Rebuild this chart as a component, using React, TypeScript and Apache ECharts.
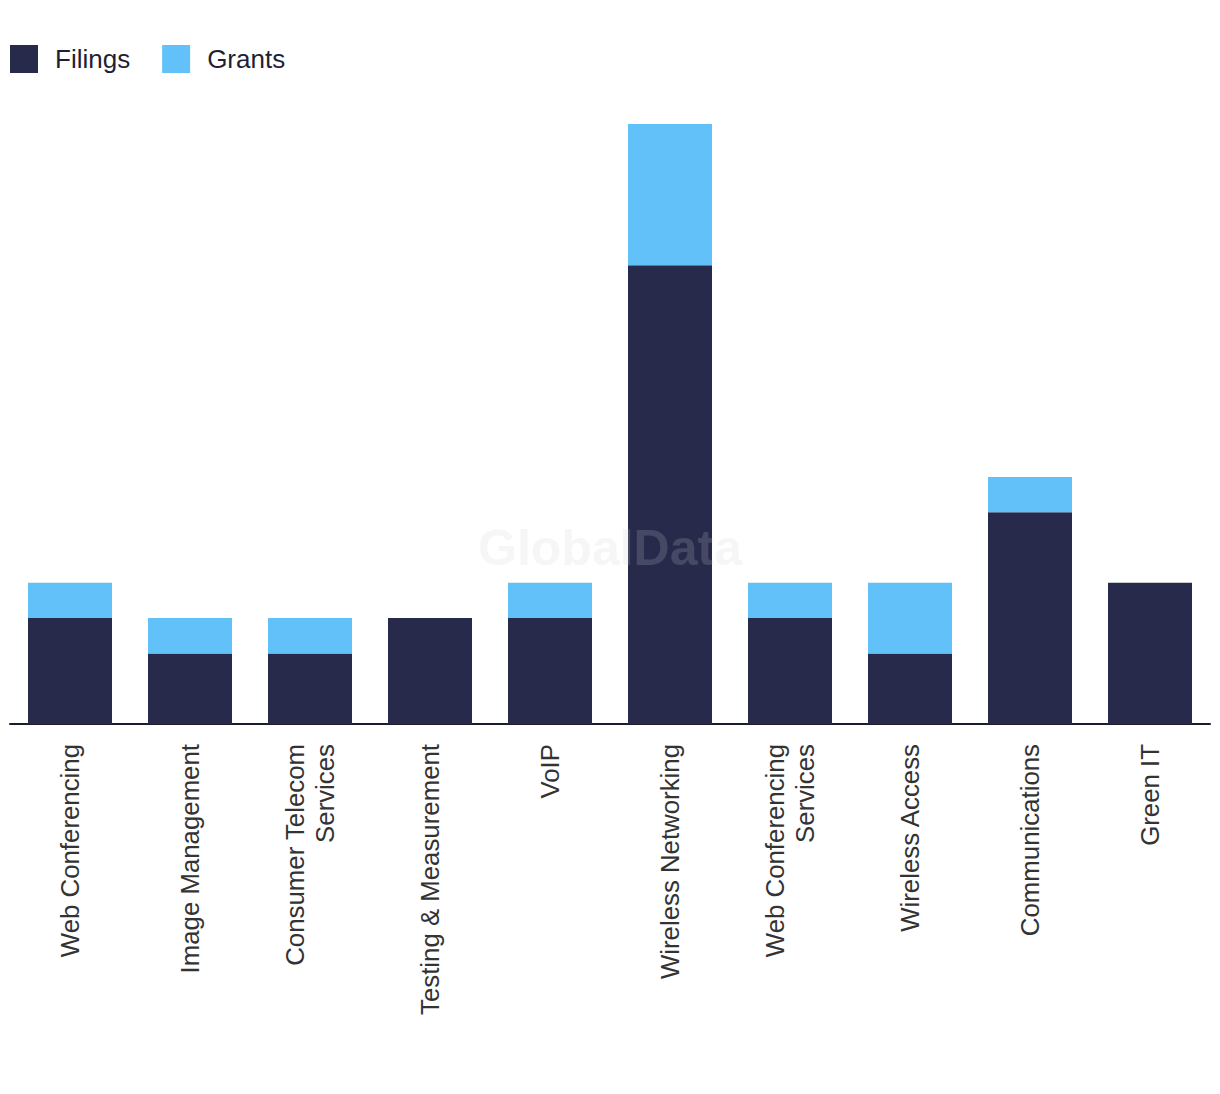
import React, { useEffect, useRef } from "react";
import * as echarts from "echarts";

const categories = [
  "Web Conferencing",
  "Image Management",
  "Consumer Telecom\nServices",
  "Testing & Measurement",
  "VoIP",
  "Wireless Networking",
  "Web Conferencing\nServices",
  "Wireless Access",
  "Communications",
  "Green IT",
];
const filings = [3, 2, 2, 3, 3, 13, 3, 2, 6, 4];
const grants = [1, 1, 1, 0, 1, 4, 1, 2, 1, 0];

export default function App() {
  const ref = useRef<HTMLDivElement>(null);
  useEffect(() => {
    if (!ref.current) return;
    const chart = echarts.init(ref.current, undefined, { renderer: "svg" });
    chart.setOption({
      animation: false,
      backgroundColor: "#ffffff",
      legend: {
        left: 10,
        top: 45,
        padding: 0,
        itemWidth: 28,
        itemHeight: 28,
        itemGap: 32,
        icon: "rect",
        textStyle: {
          fontFamily: "Liberation Sans, Arial, sans-serif",
          fontSize: 26,
          color: "#1e1f36",
          padding: [0, 0, 0, 12],
        },
        data: ["Filings", "Grants"],
      },
      grid: { left: 10, right: 10, top: 124, bottom: 370, containLabel: false },
      xAxis: {
        type: "category",
        data: categories,
        axisLine: { show: true, lineStyle: { color: "#1a1b2e", width: 2 } },
        axisTick: { show: false },
        axisLabel: {
          rotate: 90,
          interval: 0,
          margin: 20,
          fontFamily: "Liberation Sans, Arial, sans-serif",
          fontSize: 25.8,
          lineHeight: 30,
          color: "#333333",
        },
      },
      yAxis: {
        type: "value",
        min: 0,
        max: 17,
        show: false,
        splitLine: { show: false },
      },
      series: [
        {
          name: "Filings",
          type: "bar",
          stack: "total",
          barWidth: 84,
          itemStyle: { color: "#282a4c" },
          data: filings,
        },
        {
          name: "Grants",
          type: "bar",
          stack: "total",
          barWidth: 84,
          itemStyle: { color: "#63c1f9" },
          data: grants,
        },
      ],
      graphic: [
        {
          type: "text",
          left: "center",
          top: 523,
          z: 100,
          style: {
            text: "GlobalData",
            fontFamily: "Liberation Sans, Arial, sans-serif",
            fontWeight: "bold",
            fontSize: 50,
            fill: "rgba(209,209,209,0.19)",
          },
        },
      ],
    });
    return () => chart.dispose();
  }, []);
  return (
    <div
      ref={ref}
      style={{ position: "absolute", left: 0, top: 0, width: 1220, height: 1094 }}
    />
  );
}
